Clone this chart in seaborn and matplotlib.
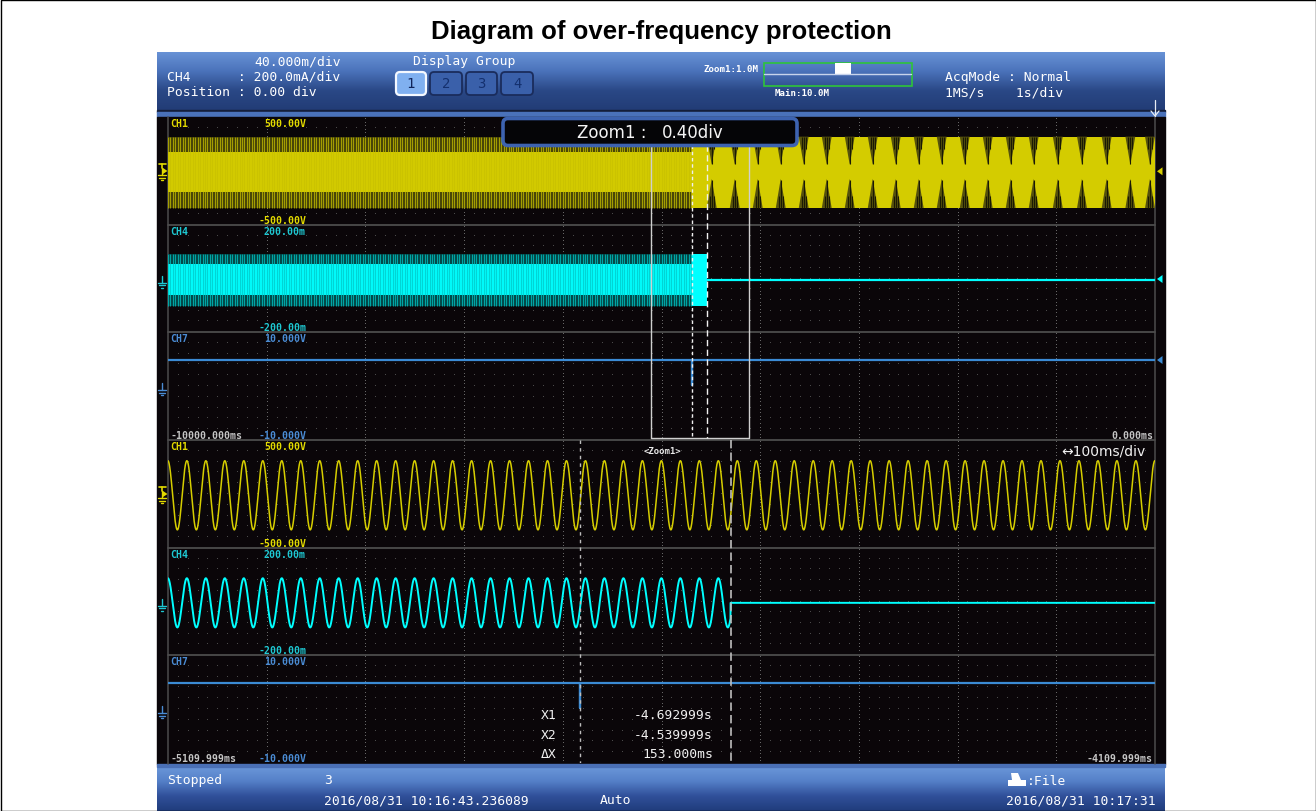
import numpy as np
import pandas as pd
import matplotlib
matplotlib.use("Agg")
import matplotlib.pyplot as plt
import seaborn as sns
from matplotlib.patches import Rectangle, FancyBboxPatch, Polygon
from matplotlib.colors import LinearSegmentedColormap

# ---------------- values ----------------
title_text = "Diagram of over-frequency protection"
main_window_ms = [-10000.0, 0.0]            # 1 s/div, 10 div
zoom_window_ms = [-5109.999, -4109.999]     # 100 ms/div, 10 div
cursor_ms = [-4692.999, -4539.999]          # X1, X2
channel_names = ["CH1", "CH4", "CH7"]
channel_top_labels = ["500.00V", "200.00m", "10.000V"]
channel_bottom_labels = ["-500.00V", "-200.00m", "-10.000V"]
channel_range = [500.0, 200.0, 10.0]
main_time_labels = ["-10000.000ms", "0.000ms"]
zoom_time_labels = ["-5109.999ms", "-4109.999ms"]
signal_freq_hz = 52.0
peak_ref_ms = -4533.2
ch1_amp_V, ch1_offset_V, ch1_core_V = 320.0, -12.0, 185.0
ch4_amp_mA, ch4_offset_mA, ch4_core_mA = 92.0, -5.0, 58.0
ch7_level_V, ch7_dip_V = 4.75, 0.2
beat_notch_ms = [-4491, -4258, -4025, -3792, -3559, -3326, -3093, -2860, -2627,
                 -2394, -2161, -1928, -1695, -1462, -1229, -985, -740, -490, -250, -51]
cursor_names = ["X1", "X2", "\u0394X"]
cursor_values = ["-4.692999s", "-4.539999s", "153.000ms"]
header_left = ["40.000m/div", "CH4      : 200.0mA/div", "Position : 0.00 div"]
display_groups = ["1", "2", "3", "4"]
acq_lines = ["AcqMode : Normal", "1MS/s    1s/div"]
zoom_bar_labels = ["Zoom1:1.0M", "Main:10.0M"]
status_texts = ["Stopped", "3", "2016/08/31 10:16:43.236089", "Auto", ":File", "2016/08/31 10:17:31"]

# ---------------- styling / layout ----------------
sns.set_theme(style="white")
plt.rcParams['font.family'] = ['DejaVu Sans']
MONO = 'DejaVu Sans Mono'
W, H = 1316, 812
PX0, PX1 = 168, 1155
ZONES_TOP = [(118, 226), (226, 333), (333, 441)]
ZONES_BOT = [(441, 549), (549, 656), (656, 764)]
TRACE_C = ['#d6ce00', '#00ffff', '#3b8bd4']
LABEL_C = ['#e2da00', '#1ec8d2', '#4a8cd4']

fig = plt.figure(figsize=(W / 100, H / 100), dpi=100, facecolor='white')


def px_axes(z):
    ax = fig.add_axes([0, 0, 1, 1], zorder=z)
    ax.set_axis_off()
    ax.patch.set_alpha(0)
    return ax


ax_bg = px_axes(0)
ax_fg = px_axes(6)


def vgrad(x0, x1, y0, y1, colors):
    cmap = LinearSegmentedColormap.from_list('g', colors)
    grad = np.linspace(0, 1, 256).reshape(-1, 1)
    ax_bg.imshow(grad, cmap=cmap, extent=(x0, x1, y1, y0), aspect='auto',
                 interpolation='bilinear', zorder=1)


# screenshot chrome
vgrad(157, 1165, 53, 111, ['#6892d6', '#4a72ba', '#2a4886', '#223c76'])
ax_bg.add_patch(Rectangle((157, 111), 1008, 2, color='#141e3a', zorder=2))
ax_bg.add_patch(Rectangle((157, 113), 1008, 4.5, color='#4a72ba', zorder=2))
ax_bg.add_patch(Rectangle((157, 117.5), 1008, 647.5, color='#0a0609', zorder=2))
ax_bg.add_patch(Rectangle((157, 764.5), 1008, 3, color='#4a70b6', zorder=2))
vgrad(157, 1165, 767.5, 812, ['#6b98da', '#5580c8', '#30509a', '#203c7c'])

# grid dots
for (y0, y1) in ZONES_TOP + ZONES_BOT:
    h = y1 - y0
    div = (PX1 - PX0) / 10
    xs = [PX0 + div * k / 10 for k in range(1, 100) if k % 10]
    ys = [y0 + h * j / 10 for j in range(1, 10)]
    X, Y = np.meshgrid(xs, ys)
    ax_bg.plot(X.ravel(), Y.ravel(), ',', color='#4a4a4a', zorder=3)
    for m in range(1, 10):
        yy = np.arange(y0 + 2, y1 - 1, 3.6)
        ax_bg.plot(np.full_like(yy, PX0 + div * m), yy, ',', color='#666666', zorder=3)

for yb in [226, 333, 441, 549, 656]:
    ax_bg.plot([PX0, PX1], [yb, yb], color='#4c4c4c', lw=1.3, zorder=3)
for xb in [PX0, PX1]:
    ax_bg.plot([xb, xb], [117.5, 764.5], color='#4c4c4c', lw=1.1, zorder=3)


def chan_axes(y0, y1):
    ax = fig.add_axes([PX0 / W, 1 - y1 / H, (PX1 - PX0) / W, (y1 - y0) / H], zorder=2)
    ax.set_axis_off()
    ax.patch.set_alpha(0)
    return ax


def finish(ax, xlim, rng):
    ax.set_xlim(*xlim)
    ax.set_ylim(-rng, rng)
    ax.set_xlabel('')
    ax.set_ylabel('')


x1c, x2c = cursor_ms
t_main0, t_main1 = main_window_ms

# ---------- main (compressed 10 s) view ----------
# CH1 : aliased dense band
ax = chan_axes(*ZONES_TOP[0])
lo, hi = ch1_offset_V - ch1_amp_V - 10, ch1_offset_V + ch1_amp_V + 10
ax.fill_between([t_main0, x1c], lo, hi, color='#3c3a08', lw=0)
stripes = np.arange(t_main0, x1c, 25.0)
ax.vlines(stripes, lo, hi, color='#c8c000', lw=0.9, alpha=0.75)
ax.fill_between([t_main0, x1c], ch1_offset_V - ch1_core_V, ch1_offset_V + ch1_core_V,
                color='#d4cc00', lw=0)
ax.fill_between([x1c, t_main1], lo, hi, color='#d4cc00', lw=0)
for c in beat_notch_ms:
    ax.add_patch(Polygon([[c - 50, hi], [c + 50, hi], [c, hi - 260]], color='#56520c', lw=0))
    ax.add_patch(Polygon([[c - 50, lo], [c + 50, lo], [c, lo + 270]], color='#56520c', lw=0))
    ax.vlines([c - 20, c, c + 20], [hi - 110, hi - 250, hi - 110], hi, color='#1a1904', lw=0.8)
    ax.vlines([c - 20, c, c + 20], lo, [lo + 110, lo + 260, lo + 110], color='#1a1904', lw=0.8)
finish(ax, main_window_ms, channel_range[0])

# CH4 : dense band until the breaker opens, then flat
ax = chan_axes(*ZONES_TOP[1])
lo, hi = ch4_offset_mA - ch4_amp_mA - 4, ch4_offset_mA + ch4_amp_mA + 4
ax.fill_between([t_main0, x1c], lo, hi, color='#033c3c', lw=0)
ax.vlines(stripes, lo, hi, color='#00c8c8', lw=0.9, alpha=0.75)
ax.fill_between([t_main0, x1c], ch4_offset_mA - ch4_core_mA, ch4_offset_mA + ch4_core_mA,
                color='#00ffff', lw=0)
ax.fill_between([x1c, x2c], lo, hi, color='#00ffff', lw=0)
df = pd.DataFrame({'t': [x2c, t_main1], 'v': [ch4_offset_mA, ch4_offset_mA]})
sns.lineplot(data=df, x='t', y='v', ax=ax, color=TRACE_C[1], lw=1.6, estimator=None, legend=False)
finish(ax, main_window_ms, channel_range[1])

# CH7 : trip signal
ax = chan_axes(*ZONES_TOP[2])
df = pd.DataFrame({'t': [t_main0, x1c, x1c, x1c, t_main1],
                   'v': [ch7_level_V, ch7_level_V, ch7_dip_V, ch7_level_V, ch7_level_V]})
sns.lineplot(data=df, x='t', y='v', ax=ax, color=TRACE_C[2], lw=1.6, estimator=None,
             sort=False, legend=False)
finish(ax, main_window_ms, channel_range[2])

# ---------- zoom (1 s) view ----------
t = np.linspace(zoom_window_ms[0], zoom_window_ms[1], 8001)
phase = np.cos(2 * np.pi * signal_freq_hz * (t - peak_ref_ms) / 1000.0)

ax = chan_axes(*ZONES_BOT[0])
df = pd.DataFrame({'t': t, 'v': ch1_offset_V + ch1_amp_V * phase})
sns.lineplot(data=df, x='t', y='v', ax=ax, color=TRACE_C[0], lw=1.1, estimator=None,
             sort=False, legend=False)
finish(ax, zoom_window_ms, channel_range[0])

ax = chan_axes(*ZONES_BOT[1])
i4 = np.where(t < x2c, ch4_offset_mA + ch4_amp_mA * phase, ch4_offset_mA)
df = pd.DataFrame({'t': t, 'v': i4})
sns.lineplot(data=df, x='t', y='v', ax=ax, color=TRACE_C[1], lw=1.4, estimator=None,
             sort=False, legend=False)
finish(ax, zoom_window_ms, channel_range[1])

ax = chan_axes(*ZONES_BOT[2])
df = pd.DataFrame({'t': [zoom_window_ms[0], x1c, x1c, x1c, zoom_window_ms[1]],
                   'v': [ch7_level_V, ch7_level_V, ch7_dip_V, ch7_level_V, ch7_level_V]})
sns.lineplot(data=df, x='t', y='v', ax=ax, color=TRACE_C[2], lw=1.6, estimator=None,
             sort=False, legend=False)
finish(ax, zoom_window_ms, channel_range[2])

# ---------- cursors and zoom frame (x in ms, y in pixels) ----------
ax_ct = fig.add_axes([PX0 / W, 1 - 441 / H, (PX1 - PX0) / W, (441 - 118) / H], zorder=4)
ax_ct.set_axis_off(); ax_ct.patch.set_alpha(0)
ax_ct.set_xlim(*main_window_ms); ax_ct.set_ylim(441, 118)
ax_ct.plot([zoom_window_ms[0], zoom_window_ms[0], zoom_window_ms[1], zoom_window_ms[1]],
           [146, 438.5, 438.5, 146], color='#cfcfcf', lw=1.0)
ax_ct.plot([x1c, x1c], [146, 438.5], color='#f0f0f0', lw=1.0, dashes=(2.5, 2))
ax_ct.plot([x2c, x2c], [146, 438.5], color='#f0f0f0', lw=1.0, dashes=(4.5, 2.5))

ax_cb = fig.add_axes([PX0 / W, 1 - 764 / H, (PX1 - PX0) / W, (764 - 441) / H], zorder=4)
ax_cb.set_axis_off(); ax_cb.patch.set_alpha(0)
ax_cb.set_xlim(*zoom_window_ms); ax_cb.set_ylim(764, 441)
ax_cb.plot([x1c, x1c], [441, 764], color='#bdbdbd', lw=1.0, dashes=(2.5, 3))
ax_cb.plot([x2c, x2c], [441, 764], color='#bdbdbd', lw=1.2, dashes=(5, 2.5))


# ---------- labels ----------
def lbl(x, y, s, c, size=7.1, ha='left', weight='bold', family=MONO):
    ax_fg.text(x, y, s, color=c, fontsize=size, ha=ha, va='center', family=family,
               fontweight=weight)


for zones in (ZONES_TOP, ZONES_BOT):
    for k, (y0, y1) in enumerate(zones):
        lbl(170, y0 + 6, channel_names[k], LABEL_C[k])
        lbl(306, y0 + 6, channel_top_labels[k], LABEL_C[k], ha='right')
        lbl(306, y1 - 5, channel_bottom_labels[k], LABEL_C[k], ha='right')
lbl(170, 436, main_time_labels[0], '#c4c4c4')
lbl(1153, 436, main_time_labels[1], '#c4c4c4', ha='right')
lbl(170, 759.5, zoom_time_labels[0], '#c4c4c4')
lbl(1153, 759.5, zoom_time_labels[1], '#c4c4c4', ha='right')
lbl(662, 452, "<Zoom1>", '#e8e8e8', size=6.5, ha='center')
lbl(1146, 452, "\u2194100ms/div", '#f0f0f0', size=10, ha='right', weight='normal',
    family='DejaVu Sans')

for k in range(3):
    yy = [716, 735.5, 755][k]
    lbl(541, yy, cursor_names[k], '#f0f0f0', size=9.4, weight='normal')
    lbl(713, yy, cursor_values[k], '#f0f0f0', size=9.4, ha='right', weight='normal')

# zoom label box
ax_fg.add_patch(FancyBboxPatch((503, 119.5), 294, 27, boxstyle='round,pad=0,rounding_size=5',
                               fc='#050507', ec='#3d63b0', lw=2.6))
lbl(577, 133, "Zoom1 :", '#f4f4f4', size=12, weight='normal', family='DejaVu Sans')
lbl(662, 133, "0.40div", '#f4f4f4', size=12, weight='normal', family='DejaVu Sans')


# ground symbols (left) and level markers (right)
def ground(y, c, trig=False):
    ax_fg.plot([162, 162], [y - 5, y + 2], color=c, lw=1.0)
    for dy, hw in [(2, 4), (4.5, 2.7), (7, 1.4)]:
        ax_fg.plot([162 - hw, 162 + hw], [y + dy, y + dy], color=c, lw=1.0)
    if trig:
        ax_fg.plot([158.5, 165.5], [y - 9, y - 9], color=c, lw=1.2)
        ax_fg.plot([162, 162], [y - 9, y - 5], color=c, lw=1.2)
        ax_fg.add_patch(Polygon([[163, y - 5], [163, y + 1], [167.5, y - 2]], color=c, lw=0))


for zones in (ZONES_TOP, ZONES_BOT):
    for k, (y0, y1) in enumerate(zones):
        ground((y0 + y1) / 2 + 2, LABEL_C[k], trig=(k == 0))
for y, c in [(172.3, TRACE_C[0]), (280, TRACE_C[1]), (361, TRACE_C[2])]:
    ax_fg.add_patch(Polygon([[1157, y], [1162.5, y - 4], [1162.5, y + 4]], color=c, lw=0))
ax_fg.plot([1155, 1155], [101, 117], color='#e6ecf4', lw=0.9)
ax_fg.plot([1151, 1155, 1159], [112, 117, 112], color='#e6ecf4', lw=0.9)

# header
hdr = '#ffffff'
lbl(254, 62, header_left[0], hdr, size=9.4, weight='normal')
lbl(167, 77, header_left[1], hdr, size=9.4, weight='normal')
lbl(167, 92, header_left[2], hdr, size=9.4, weight='normal')
lbl(464, 62, "Display Group", hdr, size=9.4, ha='center', weight='normal')
for k, (bx0, bx1) in enumerate([(395, 427), (429, 463), (465, 498), (500, 534)]):
    sel = k == 0
    ax_fg.add_patch(FancyBboxPatch((bx0 + 1, 73), bx1 - bx0 - 2, 23,
                                   boxstyle='round,pad=0,rounding_size=4',
                                   fc='#80b0f0' if sel else '#3a60aa',
                                   ec='#f4f8ff' if sel else '#1a2c5c', lw=1.6 if sel else 1.3))
    lbl((bx0 + bx1) / 2, 84.5, display_groups[k], '#10245a' if sel else '#14306e',
        size=10, ha='center', weight='normal')
lbl(731, 69, zoom_bar_labels[0], hdr, size=6.6, ha='center')
lbl(802, 93.5, zoom_bar_labels[1], hdr, size=6.6, ha='center')
ax_fg.add_patch(Rectangle((763.5, 63.5), 148, 23, fc='none', ec='#2ec43a', lw=1.2))
ax_fg.plot([764, 911], [74.5, 74.5], color='#c8d4ec', lw=1.0)
ax_fg.add_patch(Rectangle((835, 64), 16, 10.5, fc='#ffffff', ec='none'))
lbl(945, 77, acq_lines[0], hdr, size=9.4, weight='normal')
lbl(945, 93, acq_lines[1], hdr, size=9.4, weight='normal')

# status bar
lbl(167, 781, status_texts[0], hdr, size=9.4, weight='normal')
lbl(324, 781, status_texts[1], hdr, size=9.4, weight='normal')
lbl(324, 801, status_texts[2], hdr, size=9.4, weight='normal')
lbl(600, 801, status_texts[3], hdr, size=9.4, weight='normal')
ax_fg.add_patch(Polygon([[1008, 787], [1026, 787], [1026, 781], [1021, 781], [1018, 774],
                         [1011, 774], [1012, 781], [1008, 781]], color='#ffffff', lw=0))
lbl(1027, 782, status_texts[4], hdr, size=9.4, weight='normal')
lbl(1156, 801, status_texts[5], hdr, size=9.4, ha='right', weight='normal')

# title and outer frame
ax_fg.text(661, 32, title_text, fontsize=18.5, fontweight='bold', family='Liberation Sans',
           ha='center', va='center', color='black')
ax_fg.add_patch(Rectangle((0.5, 0.5), W - 1, H - 1, fc='none', ec='black', lw=1.0))

for a in (ax_bg, ax_fg):
    a.set_xlim(0, W)
    a.set_ylim(H, 0)

fig.savefig("out.png", dpi=100, facecolor='white')
